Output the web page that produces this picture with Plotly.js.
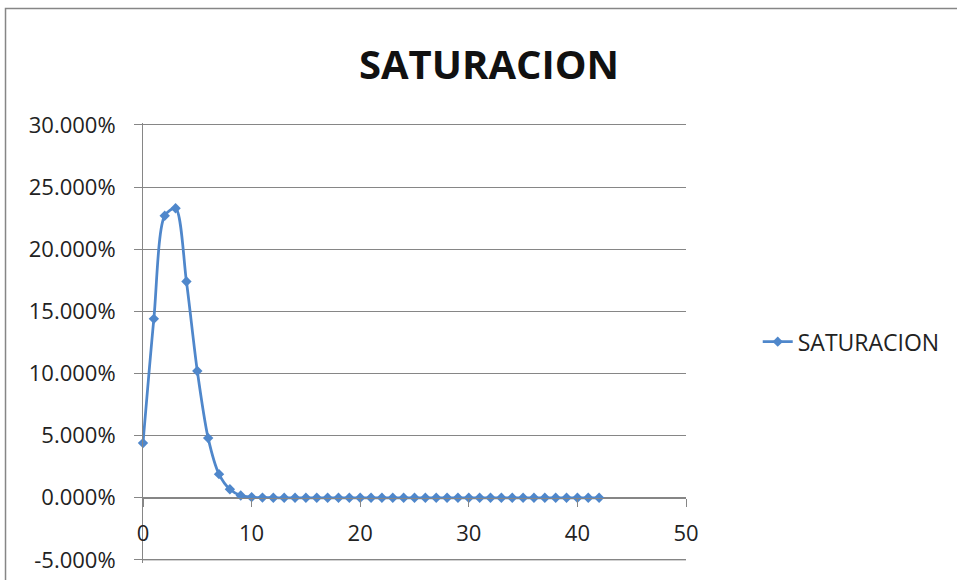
<!DOCTYPE html>
<html>
<head>
<meta charset="utf-8">
<script src="https://cdn.plot.ly/plotly-3.0.1.min.js"></script>
<style>html,body{margin:0;padding:0;background:#fff;}#chart{width:957px;height:580px;}</style>
</head>
<body>
<div id="chart"></div>
<script>
// Data
var chartTitle = "SATURACION";
var seriesName = "SATURACION";
var xValues = [0,1,2,3,4,5,6,7,8,9,10,11,12,13,14,15,16,17,18,19,20,21,22,23,24,25,26,27,28,29,30,31,32,33,34,35,36,37,38,39,40,41,42];
var saturacion = [0.044,0.144,0.227,0.233,0.174,0.102,0.048,0.019,0.0068,0.0018,0.0005,0.00012,0.00003,0,0,0,0,0,0,0,0,0,0,0,0,0,0,0,0,0,0,0,0,0,0,0,0,0,0,0,0,0,0];
var yTickVals = [-0.05,0,0.05,0.10,0.15,0.20,0.25,0.30];
var yTickText = ["-5.000%","0.000%","5.000%","10.000%","15.000%","20.000%","25.000%","30.000%"];
var xTickVals = [0,10,20,30,40,50];

var blue = "#4F87CB";
var grid = "#868686";
var FONT = "Open Sans";
// range padded by a few px so the edge gridlines are not dropped
var yMin = -0.0525, yMax = 0.3016;
var zeroFrac = (0 - yMin) / (yMax - yMin);

var trace = {
  x: xValues, y: saturacion, name: seriesName,
  type: "scatter", mode: "lines+markers",
  line: {color: blue, width: 2.75, shape: "spline", smoothing: 0.8},
  marker: {symbol: "diamond", size: 8, color: blue},
  cliponaxis: false
};

var layout = {
  width: 957, height: 580,
  margin: {l: 143, r: 269, t: 122.5, b: 17, pad: 0},
  paper_bgcolor: "#fff", plot_bgcolor: "#fff",
  font: {family: FONT, color: "#222"},
  title: {text: chartTitle, font: {family: FONT, size: 40, color: "#111", weight: "bold"},
          xref: "container", yref: "container", x: 0.511, y: 1 - 65/580, xanchor: "center", yanchor: "middle"},
  xaxis: {range: [0, 50], tickvals: xTickVals, showgrid: false, zeroline: false,
          anchor: "free", position: zeroFrac,
          showline: true, linecolor: grid, linewidth: 1,
          ticks: "outside", ticklen: 8, tickcolor: grid,
          ticklabelstandoff: 8,
          tickfont: {family: FONT, size: 22, color: "#222"}},
  yaxis: {range: [yMin, yMax], tickvals: yTickVals, ticktext: yTickText,
          showgrid: true, gridcolor: grid, gridwidth: 1, zeroline: false,
          showline: true, linecolor: grid, linewidth: 1,
          ticks: "outside", ticklen: 8, tickcolor: grid,
          ticklabelstandoff: 14,
          tickfont: {family: FONT, size: 22, color: "#222"}},
  showlegend: true,
  legend: {x: (760-143)/545, y: 0.503, xanchor: "left", yanchor: "middle", xref: "paper", yref: "paper",
           font: {family: FONT, size: 23, color: "#222"}, bgcolor: "rgba(0,0,0,0)"},
  shapes: [
    {type: "rect", xref: "paper", yref: "paper",
     x0: -0.2532, x1: 1.503, y0: -0.07, y1: 1.26,
     line: {color: grid, width: 1.5}, fillcolor: "rgba(0,0,0,0)", layer: "below"},
    {type: "line", xref: "paper", yref: "y", x0: 0, x1: 1, y0: yTickVals[0], y1: yTickVals[0],
     line: {color: grid, width: 1}, layer: "above"}
  ]
};

Plotly.newPlot("chart", [trace], layout, {displayModeBar: false, staticPlot: true});
</script>
</body>
</html>
